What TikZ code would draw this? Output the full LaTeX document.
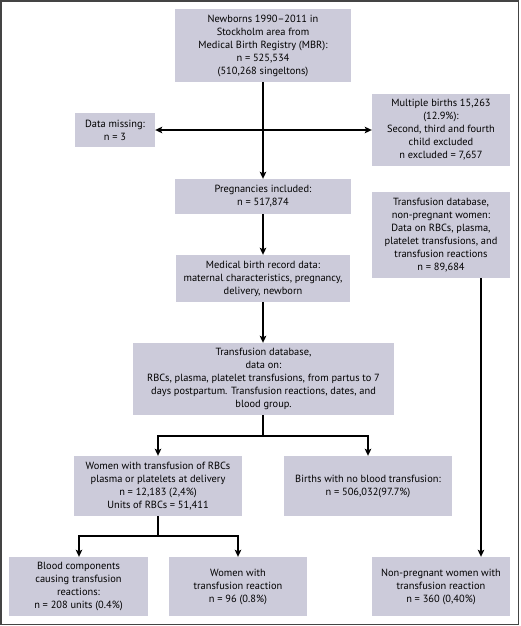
\documentclass[tikz,border=0pt]{standalone}
\usepackage{fontspec}
\setmainfont{PT Sans}
\usetikzlibrary{arrows.meta}
\definecolor{boxfill}{HTML}{CCCBDA}
\definecolor{framegray}{HTML}{444444}
\begin{document}
\begin{tikzpicture}[x=1pt,y=-1pt,
  fbox/.style={fill=boxfill,draw=none,align=center,inner sep=0pt,font=\fontsize{10.4}{13}\selectfont},
  conn/.style={line width=1.1pt,black},
  arr/.style={conn,-{Stealth[length=7pt,width=6.5pt,inset=1.5pt]}}]
\useasboundingbox (0,0) rectangle (520,626);
\draw[framegray,line width=1.4pt] (1,1) rectangle (518.5,624.5);
\newcommand\mybox[6]{\node[fbox,minimum width=#4-#2,minimum height=#5-#3] (#1) at ({(#2+#4)/2},{(#3+#5)/2}) {#6};}
\mybox{newborn}{175}{9}{351}{82}{Newborns 1990--2011 in\\Stockholm area from\\Medical Birth Registry (MBR):\\n = 525,534\\(510,268 singeltons)}
\mybox{missing}{75}{113}{155}{147}{Data missing:\\n = 3}
\mybox{multiple}{372}{94}{510}{166}{Multiple births 15,263\\(12.9\%):\\Second, third and fourth\\child excluded\\n excluded = 7,657}
\mybox{preg}{175}{179}{351}{214}{Pregnancies included:\\n = 517,874}
\mybox{nonpreg}{372}{192}{510}{278}{Transfusion database,\\non-pregnant women:\\Data on RBCs, plasma,\\platelet transfusions, and\\transfusion reactions\\n = 89,684}
\mybox{medical}{176}{255}{350}{302}{Medical birth record data:\\maternal characteristics, pregnancy,\\delivery, newborn}
\mybox{transdb}{133}{343}{394}{415}{Transfusion database,\\data on:\\RBCs, plasma, platelet transfusions, from partus to 7\\days postpartum. Transfusion reactions, dates, and\\blood group.}
\mybox{women}{74}{456}{242}{516}{Women with transfusion of RBCs\\plasma or platelets at delivery\\n = 12,183 (2,4\%)\\Units of RBCs = 51,411}
\mybox{nobirth}{284}{456}{452}{516}{Births with no blood transfusion:\\n = 506,032(97.7\%)}
\mybox{components}{9}{557}{148}{616}{Blood components\\causing transfusion\\reactions:\\n = 208 units (0.4\%)}
\mybox{womenreact}{169}{557}{307}{616}{Women with\\transfusion reaction\\n = 96 (0.8\%)}
\mybox{nonpregreact}{372}{557}{510}{616}{Non-pregnant women with\\transfusion reaction\\n = 360 (0,40\%)}
% connectors
\coordinate (cross) at (263,130);
\draw[arr] (newborn.south -| cross) -- (preg.north -| cross);
\draw[arr] (cross) -- (missing.east |- cross);
\draw[arr] (cross) -- (multiple.west |- cross);
\draw[arr] (preg.south -| cross) -- (medical.north -| cross);
\draw[arr] (medical.south -| cross) -- (transdb.north -| cross);
\coordinate (s1) at (263,436);
\draw[conn] (transdb.south -| s1) -- (s1);
\draw[arr] (s1) -| (women.north -| 158,0);
\draw[arr] (s1) -| (nobirth.north -| 368,0);
\coordinate (s2) at (158,536);
\draw[conn] (women.south -| s2) -- (s2);
\draw[arr] (s2) -| (components.north -| 79,0);
\draw[arr] (s2) -| (womenreact.north -| 238,0);
\draw[arr] (nonpreg.south -| 481,0) -- (nonpregreact.north -| 481,0);
\end{tikzpicture}
\end{document}
